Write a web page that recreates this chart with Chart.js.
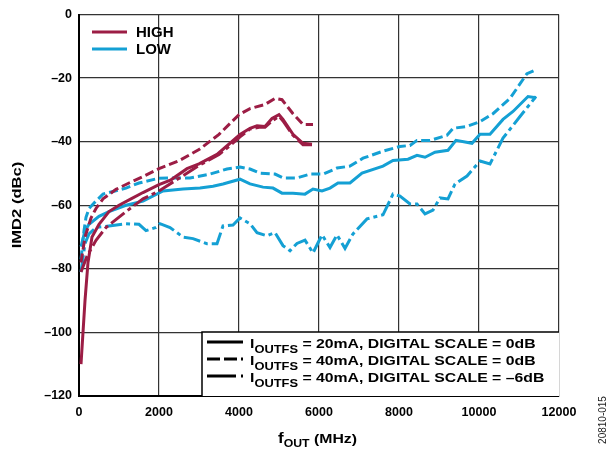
<!DOCTYPE html>
<html>
<head>
<meta charset="utf-8">
<script src="https://cdn.jsdelivr.net/npm/chart.js@4.4.1/dist/chart.umd.min.js"></script>
<style>
  html, body { margin: 0; padding: 0; background: #fff; }
  #wrap { width: 610px; height: 454px; position: relative; }
</style>
</head>
<body>
<div id="wrap"><canvas id="imdChart" width="610" height="454"></canvas></div>
<script>
// axis ticks
const xTicks = [0, 2000, 4000, 6000, 8000, 10000, 12000];
const yTicks = [0, -20, -40, -60, -80, -100, -120];

// HIGH series (maroon)
const highSolidF = [50, 150, 225, 325, 500, 750, 1000, 1300, 1600, 2000, 2300, 2700, 3000, 3450, 3775, 4025, 4275, 4450, 4650, 4825, 5000, 5100, 5350, 5600, 5825];
const highSolidDb = [-110, -90, -78, -70, -66, -62, -60, -58, -56, -53.5, -52, -48.5, -47, -44, -40.5, -37.7, -35.8, -35, -35.2, -32.7, -31.5, -33, -37.7, -40.5, -40.8];

const highDashF = [50, 150, 300, 425, 600, 925, 1250, 1600, 2000, 2500, 3000, 3500, 4000, 4275, 4650, 4900, 5075, 5350, 5600, 5850];
const highDashDb = [-78, -70, -64, -61, -58, -55, -53, -51, -48.5, -46, -42.5, -37.7, -31.5, -29.6, -28.3, -26.4, -26.8, -31.2, -34.6, -34.6];

const highDashDotF = [50, 200, 425, 675, 1175, 1600, 2000, 2500, 3000, 3500, 3800, 4025, 4275, 4500, 4650, 4825, 5000, 5100, 5350, 5600, 5825];
const highDashDotDb = [-81, -76, -71, -67, -62, -58, -55.5, -51.5, -47.5, -44, -41, -38.5, -36, -35.5, -35.5, -33.5, -32, -33.5, -38, -41, -41];

// LOW series (cyan)
const lowSolidF = [50, 150, 250, 500, 750, 1175, 1600, 2100, 2600, 3025, 3350, 3600, 4025, 4275, 4600, 4850, 5075, 5350, 5650, 5850, 6075, 6275, 6475, 6775, 7075, 7600, 7850, 8225, 8450, 8650, 8900, 9225, 9425, 9825, 10025, 10275, 10600, 10850, 11225, 11425];
const lowSolidDb = [-73, -68, -66, -63.5, -62, -60, -58.7, -55.5, -54.9, -54.6, -54, -53.3, -51.8, -53.3, -54.3, -54.6, -56.2, -56.2, -56.5, -54.9, -55.5, -54.6, -53, -53, -49.9, -47.7, -45.9, -45.5, -44.3, -44.9, -43.3, -42.7, -39.6, -40.5, -37.7, -37.7, -33, -30.5, -25.8, -26.2];

const lowDashF = [50, 125, 175, 250, 400, 600, 900, 1175, 1500, 2000, 2275, 2775, 3275, 3700, 4025, 4275, 4525, 4900, 5100, 5450, 5775, 6100, 6450, 6775, 7100, 7600, 8025, 8275, 8450, 8775, 9200, 9350, 9700, 10025, 10350, 10775, 11200, 11425];
const lowDashDb = [-77, -68, -63.8, -61, -59, -56.5, -55.5, -54.6, -53, -51.5, -51.4, -51.4, -50.2, -48.6, -48, -48.6, -49.9, -50.2, -51.4, -51.4, -50.2, -50.2, -48.3, -47.7, -45.2, -43, -41.5, -41.2, -39.6, -39.6, -38, -35.8, -35.2, -33.7, -31.2, -26.4, -18.6, -17.4];

const lowDashDotF = [50, 150, 250, 425, 750, 1175, 1500, 1675, 1925, 2025, 2275, 2600, 2850, 3200, 3450, 3600, 3850, 4025, 4275, 4450, 4700, 4900, 5100, 5275, 5450, 5650, 5850, 6075, 6275, 6450, 6650, 6850, 7200, 7600, 7850, 8025, 8275, 8450, 8650, 8850, 9025, 9225, 9400, 9700, 10025, 10275, 10600, 11025, 11425];
const lowDashDotDb = [-81, -72, -69, -67, -66.5, -65.8, -66, -68, -67, -65.8, -67, -70, -70.5, -72.1, -72.1, -66.5, -66.2, -64, -65.8, -68.6, -69.6, -68.6, -72.7, -74.3, -72, -71, -75, -69.3, -73.3, -69.3, -73.6, -69, -64.3, -63, -56.5, -57.1, -59.6, -59.6, -62.7, -61.5, -57.7, -58, -53.3, -50.8, -46.1, -47, -38.9, -32.1, -25.8];

const MAROON = '#9c1d45';
const CYAN = '#14a0d4';
const FONT = '"Liberation Sans", Arial, sans-serif';
const DASH = [9, 4];
const DASHDOT = [17, 4, 4, 4];
const STRETCH = 1.17; // the reference lettering is a bit wider than Arial

function pts(f, db) {
    return f.map((v, i) => ({ x: v, y: db[i] }));
}

function series(f, db, color, dash) {
    return {
        data: pts(f, db),
        borderColor: color,
        borderWidth: 3,
        borderDash: dash,
        pointRadius: 0,
        tension: 0,
        fill: false
    };
}

// text with subscript parts, horizontally stretched: parts = [[text, size, dy], ...]
function drawParts(ctx, parts, x, y) {
    parts.forEach(([t, size, dy]) => {
        ctx.font = 'bold ' + size + 'px ' + FONT;
        ctx.save();
        ctx.translate(x, y + dy);
        ctx.scale(STRETCH, 1);
        ctx.fillText(t, 0, 0);
        ctx.restore();
        x += ctx.measureText(t).width * STRETCH;
    });
    return x;
}

const annotations = {
    id: 'annotations',
    afterDraw(chart) {
        const ctx = chart.ctx;
        const area = chart.chartArea;
        ctx.save();

        // HIGH / LOW legend
        ctx.lineWidth = 3;
        ctx.setLineDash([]);
        [['HIGH', MAROON, 32], ['LOW', CYAN, 49]].forEach(([label, color, y]) => {
            ctx.strokeStyle = color;
            ctx.beginPath();
            ctx.moveTo(92, y);
            ctx.lineTo(127, y);
            ctx.stroke();
            ctx.fillStyle = '#000';
            ctx.font = 'bold 15px ' + FONT;
            ctx.textBaseline = 'middle';
            ctx.fillText(label, 136, y + 1);
        });

        // condition legend box
        const bx = 202, by = 332;
        ctx.fillStyle = '#fff';
        ctx.fillRect(bx, by, area.right - bx, area.bottom - by);
        ctx.strokeStyle = '#000';
        ctx.lineWidth = 1.5;
        ctx.beginPath();
        ctx.moveTo(bx, area.bottom);
        ctx.lineTo(bx, by);
        ctx.lineTo(area.right, by);
        ctx.stroke();

        const rows = [
            [[], '20mA', '0dB', 342],
            [[13, 4], '40mA', '0dB', 359],
            [[29, 5, 4, 10], '40mA', '\u20136dB', 376]
        ];
        rows.forEach(([dash, amp, scale, y]) => {
            ctx.strokeStyle = '#000';
            ctx.lineWidth = 3;
            ctx.setLineDash(dash);
            ctx.beginPath();
            ctx.moveTo(207, y);
            ctx.lineTo(243, y);
            ctx.stroke();
            ctx.setLineDash([]);
            ctx.fillStyle = '#000';
            ctx.textBaseline = 'alphabetic';
            drawParts(ctx, [
                ['I', 13.5, 0],
                ['OUTFS', 11, 5],
                [' = ' + amp + ', DIGITAL SCALE = ' + scale, 13.5, 0]
            ], 250, y + 5.5);
        });

        // x axis title with subscript
        ctx.fillStyle = '#000';
        ctx.textBaseline = 'alphabetic';
        drawParts(ctx, [['f', 14.5, 0], ['OUT', 10.5, 4], [' (MHz)', 13.5, 0]], 278, 443);

        // y axis title
        ctx.save();
        ctx.translate(17, 205);
        ctx.rotate(-Math.PI / 2);
        ctx.scale(STRETCH * 1.05, 1);
        ctx.font = 'bold 13.5px ' + FONT;
        ctx.textAlign = 'center';
        ctx.textBaseline = 'middle';
        ctx.fillText('IMD2 (dBc)', 0, 0);
        ctx.restore();

        // figure id
        ctx.save();
        ctx.translate(603, 420);
        ctx.rotate(-Math.PI / 2);
        ctx.font = '10px ' + FONT;
        ctx.textAlign = 'center';
        ctx.textBaseline = 'middle';
        ctx.fillStyle = '#222';
        ctx.fillText('20810-015', 0, 0);
        ctx.restore();

        ctx.restore();
    }
};

const ctx = document.getElementById('imdChart').getContext('2d');
new Chart(ctx, {
    type: 'line',
    data: {
        datasets: [
            series(highSolidF, highSolidDb, MAROON, []),
            series(highDashF, highDashDb, MAROON, DASH),
            series(highDashDotF, highDashDotDb, MAROON, DASHDOT),
            series(lowSolidF, lowSolidDb, CYAN, []),
            series(lowDashF, lowDashDb, CYAN, DASH),
            series(lowDashDotF, lowDashDotDb, CYAN, DASHDOT)
        ]
    },
    options: {
        responsive: false,
        animation: false,
        layout: { padding: { left: 0, right: 51, top: 12, bottom: 0 } },
        plugins: {
            legend: { display: false },
            tooltip: { enabled: false }
        },
        scales: {
            x: {
                type: 'linear',
                min: 0,
                max: 12000,
                afterFit: s => { s.height = 58; },
                afterBuildTicks: s => { s.ticks = xTicks.map(v => ({ value: v })); },
                grid: { color: '#333', lineWidth: 1.2, drawTicks: false },
                border: { color: '#000', width: 2 },
                ticks: {
                    color: '#000',
                    padding: 9,
                    maxRotation: 0,
                    font: { family: FONT, size: 12.5, weight: 'bold' },
                    callback: v => String(v)
                }
            },
            y: {
                min: -120,
                max: 0,
                afterFit: s => { s.width = 79; },
                afterBuildTicks: s => { s.ticks = yTicks.map(v => ({ value: v })); },
                grid: { color: '#333', lineWidth: 1.2, drawTicks: false },
                border: { color: '#000', width: 2 },
                ticks: {
                    color: '#000',
                    padding: 7,
                    font: { family: FONT, size: 12.5, weight: 'bold' },
                    callback: v => (v < 0 ? '\u2013' + Math.abs(v) : String(v))
                }
            }
        }
    },
    plugins: [annotations]
});
</script>
</body>
</html>
